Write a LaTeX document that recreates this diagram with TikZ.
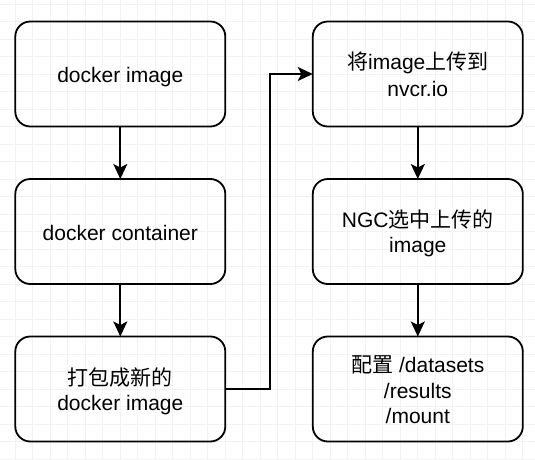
\documentclass[tikz,border=0pt]{standalone}
\usepackage{fontspec}
\setmainfont{Liberation Sans}
\newfontfamily\cjk{Noto Sans CJK SC}
\usetikzlibrary{arrows.meta}
\definecolor{gridc}{RGB}{242,242,242}
\newcommand\lnstrut{\rule[-3.6pt]{0pt}{25.2pt}}
\begin{document}
\begin{tikzpicture}[x=1pt,y=-1pt,
  box/.style={draw=black, line width=1.8pt, rounded corners=15pt,
    minimum width=210pt, minimum height=105pt, align=center,
    inner sep=0pt, outer sep=0pt, font=\fontsize{21}{25.2}\selectfont},
  arr/.style={line width=1.8pt, -{Stealth[length=15pt,width=14pt,inset=3.5pt]}},
  gridline/.style={draw=gridc, line width=0.9pt}]
\useasboundingbox (0,0) rectangle (535,460);
\fill[white] (0,0) rectangle (535,460);
\foreach \i in {0,...,29} \draw[gridline] ({15.3+17.5*\i},0) -- ++(0,460);
\foreach \j in {0,...,26} \draw[gridline] (0,{4+17.5*\j}) -- ++(535,0);

\node[box] (b1) at (120.3,74) {\lnstrut docker image};
\node[box] (b2) at (120.3,231.5) {\lnstrut docker container};
\node[box] (b3) at (120.3,389) {\lnstrut{\cjk 打包成新的}\\\lnstrut docker image};
\node[box] (r1) at (417.8,74) {\lnstrut{\cjk 将}image{\cjk 上传到}\\\lnstrut nvcr.io};
\node[box] (r2) at (417.8,231.5) {\lnstrut NGC{\cjk 选中上传的}\\\lnstrut image};
\node[box] (r3) at (417.8,389) {\lnstrut{\cjk 配置} /datasets\\\lnstrut /results\\\lnstrut /mount};

\draw[arr] (b1) -- (b2);
\draw[arr] (b2) -- (b3);
\draw[arr] (r1) -- (r2);
\draw[arr] (r2) -- (r3);
\draw[arr] (b3.east) -- ++(44.4,0) |- (r1.west);
\end{tikzpicture}
\end{document}
